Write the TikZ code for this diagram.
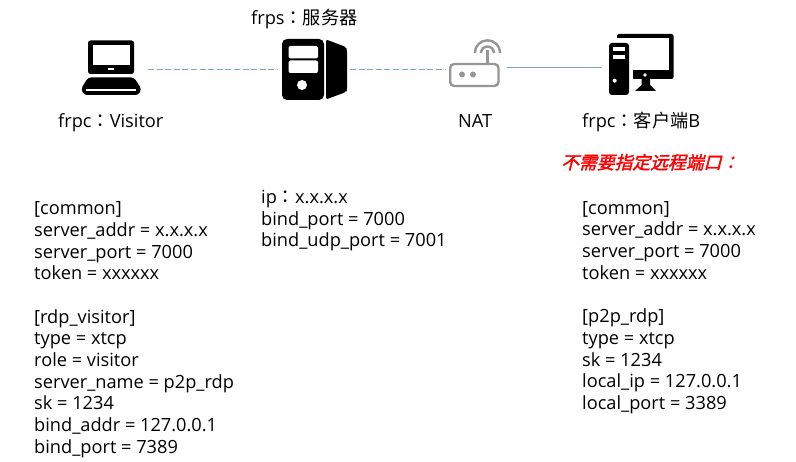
\documentclass[tikz,border=0pt]{standalone}
\usepackage{fontspec}
\setmainfont{Open Sans}
\newfontfamily\cjk{Noto Sans CJK SC}
\newfontfamily\cjkc{Noto Sans CJK TC}
\newfontfamily\redf[FakeSlant=0.25,FakeBold=2]{Noto Sans CJK SC}
\newfontfamily\redc[FakeSlant=0.25,FakeBold=2]{Noto Sans CJK TC}
\definecolor{linkc}{HTML}{7FA6CC}
\definecolor{routerc}{HTML}{969696}
\begin{document}
\begin{tikzpicture}[x=1pt,y=-1pt,
  lbl/.style={inner sep=0pt,font=\fontsize{18.2}{21.7}\selectfont,text=black},
  codeblock/.style={lbl,anchor=north west,align=left},
  link/.style={draw=linkc,line width=0.8pt},
  slot/.style={inner sep=0pt,minimum size=0pt}]
\useasboundingbox (0,0) rectangle (796,462);
\fill[white] (0,0) rectangle (796,462);
% laptop
\fill[black,rounded corners=2.5pt] (88,40.5) rectangle (134,74);
\fill[white] (92.5,45) rectangle (130,65);
\fill[white] (108,68) rectangle (114,70);
\fill[black,rounded corners=3pt] (88,77.5) -- (134,77.5) -- (141.5,89) -- (138.5,95) -- (84,95) -- (81,89) -- cycle;
\fill[white] (86,89) rectangle (136,91.5);
% server
\fill[black,rounded corners=5pt] (282,39) rectangle (324,100);
\fill[white,rounded corners=2pt] (288.5,46) rectangle (318,58.5);
\fill[white,rounded corners=2pt] (288.5,60.5) rectangle (318,73);
\fill[white] (302,85) circle (5);
\fill[black,rounded corners=2pt] (326,39.5) -- (346,47) -- (347,50) -- (347,90) -- (346,92) -- (326,99.5) -- cycle;
% router
\draw[routerc,line width=2.4pt,rounded corners=4pt] (450.2,64) rectangle (498.5,86);
\fill[routerc] (462,74.5) circle (3) (473,74.5) circle (3);
\draw[routerc,line width=2.4pt] (487.5,63) -- (487.5,50);
\draw[routerc,line width=2.4pt] (487.5,53) ++(-6.5,0) arc[start angle=180,end angle=360,radius=6.5];
\draw[routerc,line width=2.4pt] (487.5,53) ++(-12.7,0) arc[start angle=180,end angle=360,radius=12.7];
% pc
\fill[black,rounded corners=2pt] (617,34) rectangle (673.5,79);
\fill[white] (615,38.5) rectangle (669,70.5);
\fill[white] (607,40) rectangle (633,97);
\fill[black,rounded corners=3pt] (609,43) rectangle (629,95);
\fill[white] (613,47) rectangle (625,51.5);
\fill[white] (613,55) rectangle (625,59.5);
\fill[white] (614.7,80.7) circle (2);
\fill[white] (645,75) circle (1.8);
\fill[black] (641.7,79) -- (650,79) -- (650,85) -- (656,91) -- (635,91) -- (641.7,85) -- cycle;
% anchors for connectors
\node[slot] (laptop) at (111,69) {};
\node[slot] (server) at (314,69) {};
\node[slot] (router) at (474,68) {};
\node[slot] (pc) at (641,67) {};
\coordinate (la) at (148,69);
\coordinate (sa) at (278,69);
\coordinate (sb) at (350,69);
\coordinate (ra) at (446,69);
\coordinate (rb) at (507,67.5);
\coordinate (pa) at (602,67.5);
\draw[link,dash pattern=on 6pt off 2.6pt] (la) -- (sa);
\draw[link,dash pattern=on 6pt off 2.6pt] (sb) -- (ra);
\draw[link] (rb) -- (pa);
% labels
\node[lbl,anchor=base west] (t1) at (58,128) {frpc{\cjkc：}Visitor};
\node[lbl,anchor=base west] (t2) at (251,25) {frps{\cjkc：}{\cjk 服务器}};
\node[lbl,anchor=base west] (t3) at (458,128) {NAT};
\node[lbl,anchor=base west] (t4) at (582,128) {frpc{\cjkc：}{\cjk 客户端}B};
\node[inner sep=0pt,anchor=base west,text=red,font=\fontsize{17.8}{19}\selectfont] (t5) at (561,169) {{\redf 不需要指定远程端口}{\redc ：}};
\node[codeblock] (c1) at (34,201.5) {{[common]}\\server\_addr = x.x.x.x\\server\_port = 7000\\token = xxxxxx\\~\\{[rdp\_visitor]}\\type = xtcp\\role = visitor\\server\_name = p2p\_rdp\\sk = 1234\\bind\_addr = 127.0.0.1\\bind\_port = 7389};
\node[codeblock] (c2) at (261,190) {ip{\cjkc：}x.x.x.x\\bind\_port = 7000\\bind\_udp\_port = 7001};
\node[codeblock] (c3) at (582,201) {{[common]}\\server\_addr = x.x.x.x\\server\_port = 7000\\token = xxxxxx\\~\\{[p2p\_rdp]}\\type = xtcp\\sk = 1234\\local\_ip = 127.0.0.1\\local\_port = 3389};
\end{tikzpicture}
\end{document}
